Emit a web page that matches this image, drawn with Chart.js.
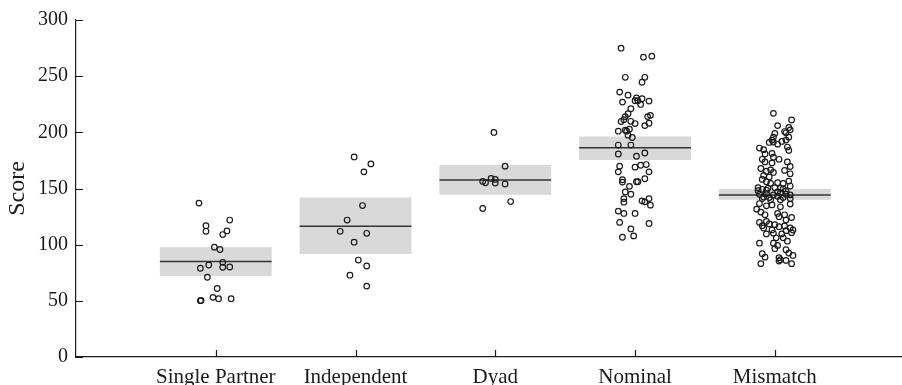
<!DOCTYPE html>
<html>
<head>
<meta charset="utf-8">
<script src="https://cdn.jsdelivr.net/npm/chart.js@4"></script>
<style>
  html, body { margin: 0; padding: 0; background: #fff; }
  #wrap { width: 902px; height: 385px; }
</style>
</head>
<body>
<div id="wrap"><canvas id="scoreChart" width="902" height="385"></canvas></div>
<script>
// Groups along the x axis
const categories = ['Single Partner', 'Independent', 'Dyad', 'Nominal', 'Mismatch'];
const yTicks = [0, 50, 100, 150, 200, 250, 300];

// Group means and the grey interval bands
const means = [85.1, 116.3, 157.5, 186.3, 144.3];
const bandLow = [72.2, 91.6, 144.5, 175.4, 140.0];
const bandHigh = [97.8, 141.9, 171.0, 196.3, 149.6];

// Individual scores, with the horizontal jitter
const singleScores = [137, 121.9, 116.9, 111.9, 112.2, 109, 97.8, 95.7, 84.3, 79, 81.9, 79.9, 80.1, 71, 61, 53.1, 51.9, 51.9, 50.1, 50.3];
const singleJitter = [-0.12, 0.10, -0.07, -0.07, 0.08, 0.05, -0.01, 0.03, 0.05, -0.11, -0.05, 0.05, 0.10, -0.06, 0.01, -0.02, 0.02, 0.11, -0.11, -0.105];

const independentScores = [178.1, 171.9, 164.8, 134.8, 121.9, 111.9, 110.1, 102.2, 86.3, 81, 72.8, 63.1];
const independentJitter = [-0.01, 0.11, 0.06, 0.05, -0.06, -0.11, 0.08, -0.01, 0.02, 0.08, -0.04, 0.08];

const dyadScores = [199.9, 169.9, 159, 158.1, 156.3, 155.1, 154.9, 154, 138.4, 132.2];
const dyadJitter = [-0.01, 0.07, -0.03, 0, -0.09, -0.07, 0, 0.07, 0.11, -0.09];

const nominalScores = [274.9, 266.9, 267.8, 249, 249, 244.6, 235.8, 233.1, 226.9, 230.7, 228.1, 228.1, 229.9, 224.8, 227.8,
  221, 216.6, 214, 211.3, 209.6, 209.8, 207.8, 215.1, 214, 208.1, 206, 201, 201.9, 201, 202.8, 197.5, 195.4,
  188.7, 188.7, 180.7, 178.7, 181.6, 169.9, 164.8, 169, 170.7, 171.3, 164.8, 157.8, 155.7, 156, 156, 158.7,
  151.9, 146.9, 144.9, 141, 137.8, 139, 138.1, 141, 135.2, 129.9, 127.8, 127.8, 119.8, 118.9, 114, 106.6, 107.8];
const nominalJitter = [-0.10, 0.06, 0.12, -0.07, 0.07, 0.05, -0.11, -0.05, -0.09, 0.01, 0, 0.02, 0.05, 0.04, 0.10,
  -0.03, -0.05, -0.07, -0.08, -0.10, -0.03, 0, 0.11, 0.09, 0.10, 0.07, -0.12, -0.07, -0.06, -0.04, -0.05, -0.02,
  -0.12, -0.03, -0.12, 0.01, 0.07, -0.11, -0.12, 0, 0.04, 0.08, 0.10, -0.09, -0.09, 0.01, 0.02, 0.07,
  -0.04, -0.07, -0.03, -0.08, -0.08, 0.05, 0.07, 0.10, 0.11, -0.12, -0.08, 0, -0.11, 0.10, -0.03, -0.09, -0.01];

const mismatchScores = [216.9, 211, 206, 204.3, 202.2, 199.6, 200.7, 199, 195.7, 195.7, 193.1, 191, 191.3, 189.5, 191.9,
  193.1, 186.9, 183.9, 186, 184.6, 180.7, 181.3, 176, 177.8, 176, 173.7, 172.8, 173.7, 169.6, 166.1, 167.8,
  165.4, 166.6, 164.3, 161.6, 160.2, 163.1, 158.1, 156, 154.6, 155.1, 154.6, 156.6, 152.2, 150.7, 149.3, 150.2,
  150.7, 150.2, 147.8, 144.9, 145.4, 144.3, 146, 144.9, 144.3, 142.5, 141.9, 143.1, 141.9, 136.6, 134.6, 135.4,
  133.7, 136.1, 131.6, 129, 126.6, 127.8, 124.9, 126.6, 124.2, 121.9, 119.8, 116.9, 120.7, 118.4, 117.8, 116,
  116.6, 114.9, 114.9, 113.1, 113.1, 109.6, 110.1, 109.6, 112.5, 110.7, 106.1, 106.1, 103.1, 101.3, 101.3, 99.3,
  96.4, 95.5, 92.5, 90.4, 91.9, 88.9, 88.4, 86.6, 85.4, 86, 83.1, 83.1, 141, 140, 140, 141, 148, 148.5, 147, 149.6];
const mismatchJitter = [-0.01, 0.12, 0.02, 0.10, 0.11, 0.08, 0.07, 0, -0.01, 0.10, -0.02, -0.04, -0.01, 0.02, 0.05,
  0.08, 0.09, 0.10, -0.11, -0.08, -0.07, -0.02, 0.03, -0.01, -0.09, -0.07, -0.02, 0.09, 0.11, 0.07, -0.10,
  -0.06, -0.03, -0.01, -0.08, -0.04, 0.11, -0.09, -0.06, -0.03, 0.02, 0.06, 0.10, 0.11, -0.12, -0.09, -0.05,
  0, 0.04, 0.08, -0.11, -0.06, -0.01, 0.04, 0.08, 0.11, -0.08, -0.04, 0.02, 0.06, -0.11, -0.06, -0.02,
  0.04, 0.11, -0.13, -0.10, -0.07, 0.02, 0.03, 0.07, 0.12, 0.08, -0.11, -0.09, -0.06, -0.04, 0, 0.03,
  0.07, 0.11, -0.08, -0.02, 0.13, -0.06, -0.01, 0.05, 0.08, 0.12, 0.01, 0.06, 0.09, -0.11, -0.01, 0.02,
  0, 0.08, 0.10, 0.13, -0.09, -0.07, 0.03, 0.04, 0.03, 0.08, -0.10, 0.12, -0.09, -0.03, 0.04, 0.11, -0.12, -0.06, 0.02, 0.06];

const groupScores = [singleScores, independentScores, dyadScores, nominalScores, mismatchScores];
const groupJitter = [singleJitter, independentJitter, dyadJitter, nominalJitter, mismatchJitter];

const serif = "'Liberation Serif', 'Times New Roman', serif";
const ink = '#1a1a1a';

// point clouds, one dataset per group
const pointSets = groupScores.map((scores, g) => ({
    type: 'scatter',
    data: scores.map((s, i) => ({ x: g + 1 + groupJitter[g][i], y: s })),
    pointRadius: 2.8,
    pointBorderWidth: 1.2,
    pointBorderColor: ink,
    pointBackgroundColor: 'rgba(0,0,0,0)',
    pointHoverRadius: 2.8,
    order: 1
}));

// mean segments spanning each band, gaps between groups
const meanLine = [];
means.forEach((m, g) => {
    meanLine.push({ x: g + 0.6, y: m }, { x: g + 1.4, y: m }, { x: g + 1.5, y: null });
});

// inward tick marks on both axes
const innerTicks = {
    id: 'innerTicks',
    afterDraw(chart) {
        const ctx = chart.ctx;
        const xs = chart.scales.x, ys = chart.scales.y;
        const area = chart.chartArea;
        ctx.save();
        ctx.strokeStyle = ink;
        ctx.lineWidth = 1.2;
        ctx.beginPath();
        xs.ticks.forEach(t => {
            const px = Math.round(xs.getPixelForValue(t.value)) + 0.5;
            ctx.moveTo(px, area.bottom);
            ctx.lineTo(px, area.bottom - 7);
        });
        ys.ticks.forEach(t => {
            const py = Math.round(ys.getPixelForValue(t.value)) + 0.5;
            ctx.moveTo(area.left, py);
            ctx.lineTo(area.left + 7, py);
        });
        ctx.stroke();
        ctx.restore();
    }
};

document.addEventListener('DOMContentLoaded', function () {
    const ctx = document.getElementById('scoreChart').getContext('2d');
    const scoreChart = new Chart(ctx, {
        type: 'scatter',
        data: {
            datasets: [
                {
                    type: 'bar',
                    data: categories.map((c, g) => ({ x: g + 1, y: [bandLow[g], bandHigh[g]] })),
                    backgroundColor: '#d9d9d9',
                    borderWidth: 0,
                    categoryPercentage: 1,
                    barPercentage: 0.8,
                    order: 3
                },
                {
                    type: 'line',
                    data: meanLine,
                    borderColor: '#333',
                    borderWidth: 1.5,
                    pointRadius: 0,
                    spanGaps: false,
                    fill: false,
                    order: 2
                },
                ...pointSets
            ]
        },
        options: {
            responsive: false,
            animation: false,
            devicePixelRatio: 1,
            layout: { autoPadding: false, padding: { top: 17, right: 0, bottom: 0, left: 0 } },
            plugins: {
                legend: { display: false },
                tooltip: { enabled: false }
            },
            scales: {
                x: {
                    type: 'linear',
                    offset: false,
                    min: 0,
                    max: 5.91,
                    afterBuildTicks: scale => {
                        scale.ticks = categories.map((c, g) => ({ value: g + 1 }));
                    },
                    afterFit: scale => { scale.height = 28; },
                    ticks: {
                        autoSkip: false,
                        maxRotation: 0,
                        padding: 8,
                        color: ink,
                        font: { family: serif, size: 21 },
                        callback: v => categories[v - 1]
                    },
                    grid: { display: false, drawTicks: false, offset: false },
                    border: { display: true, color: ink, width: 1.2 }
                },
                y: {
                    min: 0,
                    max: 300,
                    afterBuildTicks: scale => {
                        scale.ticks = yTicks.map(v => ({ value: v }));
                    },
                    afterFit: scale => { scale.width = 76; },
                    ticks: {
                        padding: 8,
                        color: ink,
                        font: { family: serif, size: 20 }
                    },
                    grid: { display: false, drawTicks: false },
                    border: { display: true, color: ink, width: 1.2 },
                    title: {
                        display: true,
                        text: 'Score',
                        color: ink,
                        font: { family: serif, size: 24 },
                        padding: { top: 3, bottom: 0 }
                    }
                }
            }
        },
        plugins: [innerTicks]
    });
});
</script>
</body>
</html>
